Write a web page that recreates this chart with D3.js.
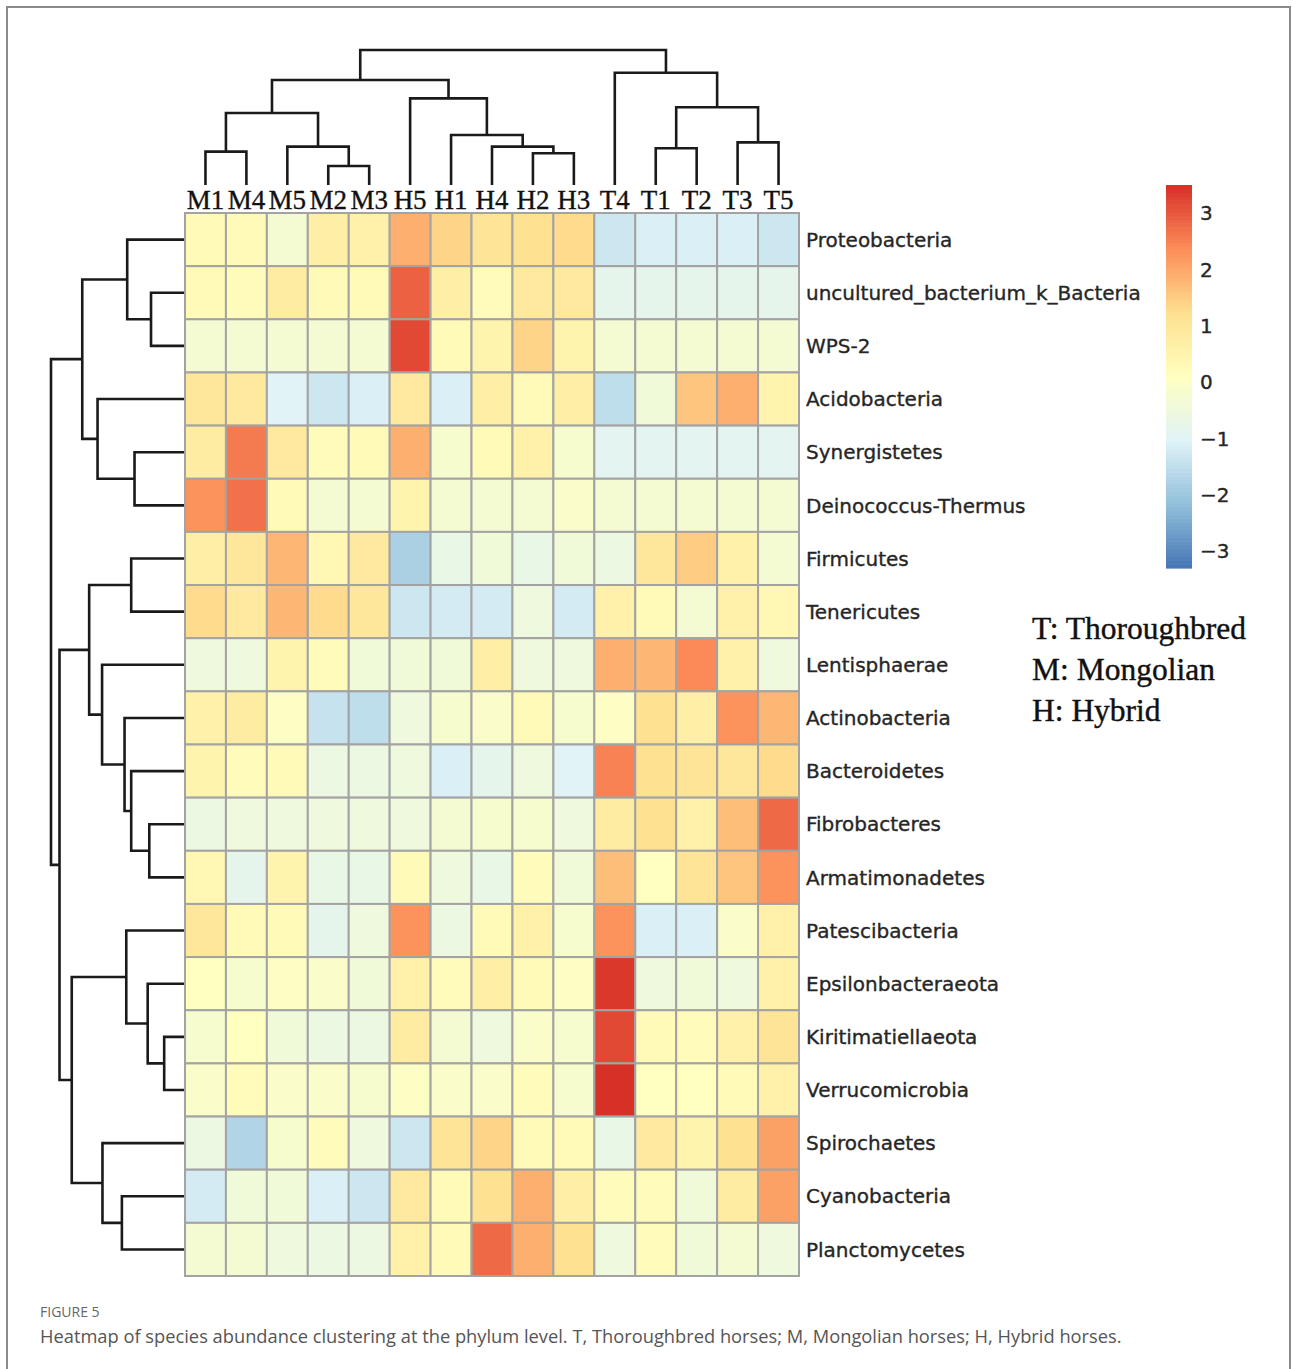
<!DOCTYPE html>
<html>
<head>
<meta charset="utf-8">
<script src="https://cdn.jsdelivr.net/npm/d3@7"></script>
<style>
  html, body { margin: 0; padding: 0; background: #fff; }
  svg { display: block; }
</style>
</head>
<body>
<svg id="chart" width="1293" height="1369"></svg>
<script>
// Samples (columns) in dendrogram order
const samples = ["M1","M4","M5","M2","M3","H5","H1","H4","H2","H3","T4","T1","T2","T3","T5"];

// Phyla (rows) in dendrogram order
const phyla = [
  "Proteobacteria","uncultured_bacterium_k_Bacteria","WPS-2","Acidobacteria",
  "Synergistetes","Deinococcus-Thermus","Firmicutes","Tenericutes","Lentisphaerae",
  "Actinobacteria","Bacteroidetes","Fibrobacteres","Armatimonadetes","Patescibacteria",
  "Epsilonbacteraeota","Kiritimatiellaeota","Verrucomicrobia","Spirochaetes",
  "Cyanobacteria","Planctomycetes"
];

// Row-scaled abundance (z-scores), one array per phylum, columns in `samples` order
const Proteobacteria      = [ 0.3, 0.3,-0.3, 0.7, 0.6, 1.9, 1.4, 1.1, 1.2, 1.3,-1.3,-1.1,-1.1,-1.1,-1.3];
const uncultured          = [ 0.3, 0.2, 0.8, 0.3, 0.3, 2.9, 0.7, 0.2, 0.9, 0.9,-0.8,-0.8,-0.8,-0.8,-0.8];
const WPS2                = [-0.3,-0.3,-0.3,-0.3,-0.3, 3.2, 0.3, 0.5, 1.4, 0.5,-0.3,-0.3,-0.3,-0.3,-0.3];
const Acidobacteria       = [ 1.0, 0.9,-1.0,-1.3,-1.1, 0.9,-1.1, 0.7, 0.3, 0.7,-1.5,-0.4, 1.6, 1.9, 0.5];
const Synergistetes       = [ 0.8, 2.6, 0.9, 0.2, 0.3, 1.9,-0.2, 0.3, 0.6,-0.2,-0.9,-0.9,-0.9,-0.9,-0.9];
const DeinococcusThermus  = [ 2.3, 2.7, 0.3,-0.3,-0.3, 0.5,-0.3,-0.3,-0.3,-0.1,-0.3,-0.3,-0.3,-0.3,-0.3];
const Firmicutes          = [ 0.7, 1.0, 1.8, 0.4, 0.9,-1.8,-0.7,-0.4,-0.7,-0.4,-0.6, 1.0, 1.5, 0.6,-0.3];
const Tenericutes         = [ 1.3, 0.9, 1.8, 1.3, 1.0,-1.3,-1.2,-1.2,-0.5,-1.2, 0.6, 0.3,-0.3, 0.6, 0.4];
const Lentisphaerae       = [-0.5,-0.5, 0.5, 0.2,-0.4,-0.4,-0.4, 0.7,-0.5,-0.5, 1.9, 1.8, 2.4, 0.6,-0.5];
const Actinobacteria      = [ 0.6, 0.8, 0.0,-1.4,-1.5,-0.5,-0.2,-0.1, 0.3,-0.2, 0.0, 1.2, 0.7, 2.3, 1.8];
const Bacteroidetes       = [ 0.5, 0.2, 0.3,-0.6,-0.6,-0.5,-1.1,-0.8,-0.5,-1.0, 2.5, 1.2, 1.1, 1.0, 1.3];
const Fibrobacteres       = [-0.6,-0.5,-0.5,-0.5,-0.5,-0.5,-0.3,-0.2,-0.2,-0.5, 0.8, 1.2, 0.6, 1.7, 2.8];
const Armatimonadetes     = [ 0.4,-0.8, 0.5,-0.7,-0.7, 0.3,-0.5,-0.7, 0.2,-0.4, 1.7, 0.1, 1.1, 1.6, 2.3];
const Patescibacteria     = [ 1.0, 0.3, 0.3,-0.8,-0.5, 2.3,-0.6, 0.3, 0.6,-0.2, 2.3,-1.1,-1.1,-0.1, 0.6];
const Epsilonbacteraeota  = [ 0.1,-0.2, 0.0,-0.1,-0.4, 0.6, 0.2, 0.7, 0.3, 0.0, 3.4,-0.5,-0.4,-0.5, 0.6];
const Kiritimatiellaeota  = [-0.2, 0.1,-0.4,-0.6,-0.6, 0.8,-0.3,-0.5,-0.1,-0.2, 3.2, 0.3, 0.2, 0.6, 1.1];
const Verrucomicrobia     = [-0.1, 0.2,-0.1,-0.1,-0.2, 0.0,-0.1,-0.1, 0.2,-0.2, 3.5, 0.1, 0.1, 0.3, 0.6];
const Spirochaetes        = [-0.6,-1.7,-0.2, 0.2,-0.5,-1.3, 1.1, 1.4, 0.3, 0.3,-0.7, 0.9, 0.5, 1.2, 2.1];
const Cyanobacteria       = [-1.2,-0.4,-0.4,-1.1,-1.3, 0.9, 0.3, 1.2, 1.9, 0.7, 0.2, 0.2,-0.4, 0.8, 2.1];
const Planctomycetes      = [-0.3,-0.3,-0.5,-0.6,-0.6, 0.6, 0.3, 2.8, 1.9, 1.2,-0.5, 0.2,-0.4,-0.3,-0.5];

const values = [
  Proteobacteria, uncultured, WPS2, Acidobacteria, Synergistetes, DeinococcusThermus,
  Firmicutes, Tenericutes, Lentisphaerae, Actinobacteria, Bacteroidetes, Fibrobacteres,
  Armatimonadetes, Patescibacteria, Epsilonbacteraeota, Kiritimatiellaeota,
  Verrucomicrobia, Spirochaetes, Cyanobacteria, Planctomycetes
];

// Column clustering: [left, right, height]; strings are leaves, numbers are earlier merges
const colMerges = [
  ["M2","M3",1.41],   // 0
  ["H2","H3",2.35],   // 1
  ["M1","M4",2.47],   // 2
  ["T1","T2",2.72],   // 3
  ["M5",0,2.84],      // 4
  ["H4",1,2.84],      // 5
  ["T3","T5",3.16],   // 6
  ["H1",5,3.70],      // 7
  [2,4,5.33],         // 8
  [3,6,5.76],         // 9
  ["H5",7,6.42],      // 10
  [8,10,7.78],        // 11
  ["T4",9,8.32],      // 12
  [11,12,10.0]        // 13
];

// Row clustering, same layout
const rowMerges = [
  ["Kiritimatiellaeota","Verrucomicrobia",1.49],          // 0
  ["uncultured_bacterium_k_Bacteria","WPS-2",2.48],       // 1
  ["Fibrobacteres","Armatimonadetes",2.61],               // 2
  ["Epsilonbacteraeota",0,2.73],                          // 3
  ["Synergistetes","Deinococcus-Thermus",3.72],           // 4
  ["Firmicutes","Tenericutes",3.97],                      // 5
  ["Bacteroidetes",2,3.97],                               // 6
  ["Proteobacteria",1,4.27],                              // 7
  ["Patescibacteria",3,4.34],                             // 8
  ["Actinobacteria",6,4.47],                              // 9
  ["Cyanobacteria","Planctomycetes",4.67],                // 10
  ["Spirochaetes",10,6.13],                               // 11
  ["Lentisphaerae",9,6.16],                               // 12
  ["Acidobacteria",4,6.50],                               // 13
  [5,12,7.13],                                            // 14
  [7,13,7.65],                                            // 15
  [8,11,8.44],                                            // 16
  [14,16,9.36],                                           // 17
  [15,17,10.0]                                            // 18
];

// Colour key
const legendTicks = [3,2,1,0,-1,-2,-3];
const valueRange = [-3.3, 3.5];
const palette = ["#4575b4","#91bfdb","#e0f3f8","#ffffbf","#fee090","#fc8d59","#d73027"];

const groupKey = ["T: Thoroughbred","M: Mongolian","H: Hybrid"];
const figureLabel = "FIGURE 5";
const captionText = "Heatmap of species abundance clustering at the phylum level. T, Thoroughbred horses; M, Mongolian horses; H, Hybrid horses.";

// ---------- layout ----------
const svg = d3.select("#chart");
const grid = {left: 185, right: 799, top: 213, bottom: 1276};

const x = d3.scaleBand().domain(samples).range([grid.left, grid.right]);
const y = d3.scaleBand().domain(phyla).range([grid.top, grid.bottom]);

const color = d3.scaleLinear()
  .domain(palette.map((_, i) => valueRange[0] + i * (valueRange[1] - valueRange[0]) / (palette.length - 1)))
  .range(palette)
  .interpolate(d3.interpolateRgb)
  .clamp(true);

// Outer frame
svg.append("path")
  .attr("d", "M7,1375V7H1290V1375")
  .attr("fill", "none")
  .attr("stroke", "#8a8a8a")
  .attr("stroke-width", 2);

// ---------- heatmap cells ----------
const cells = [];
phyla.forEach((p, i) => samples.forEach((s, j) => cells.push({p, s, v: values[i][j]})));

svg.append("g").selectAll("rect")
  .data(cells)
  .join("rect")
  .attr("x", d => x(d.s))
  .attr("y", d => y(d.p))
  .attr("width", x.bandwidth())
  .attr("height", y.bandwidth())
  .attr("fill", d => color(d.v))
  .attr("stroke", "#a3a3a3")
  .attr("stroke-width", 2);

// ---------- dendrograms ----------
function buildTree(merges) {
  const toNode = ref => typeof ref === "string"
    ? {name: ref, height: 0}
    : {height: merges[ref][2], kids: [toNode(merges[ref][0]), toNode(merges[ref][1])]};
  return d3.hierarchy(toNode(merges.length - 1), d => d.kids);
}

function elbows(root, leafPos, heightPos, vertical) {
  // leaf positions from band scale, internal nodes at the mean of their children
  root.eachAfter(n => {
    n.pos = n.children ? d3.mean(n.children, c => c.pos) : leafPos(n.data.name);
    n.hp = heightPos(n.data.height);
  });
  const paths = [];
  root.each(n => {
    if (!n.children) return;
    const [a, b] = n.children;
    paths.push(vertical
      ? `M${a.pos},${a.hp}V${n.hp}H${b.pos}V${b.hp}`
      : `M${a.hp},${a.pos}H${n.hp}V${b.pos}H${b.hp}`);
  });
  return paths;
}

const colTree = buildTree(colMerges);
const colH = d3.scaleLinear().domain([0, 10]).range([185, 50]);
svg.append("g").selectAll("path")
  .data(elbows(colTree, s => x(s) + x.bandwidth() / 2, colH, true))
  .join("path")
  .attr("d", d => d)
  .attr("fill", "none")
  .attr("stroke", "#1a1a1a")
  .attr("stroke-width", 2.6);

const rowTree = buildTree(rowMerges);
const rowH = d3.scaleLinear().domain([0, 10]).range([184, 51]);
svg.append("g").selectAll("path")
  .data(elbows(rowTree, p => y(p) + y.bandwidth() / 2, rowH, false))
  .join("path")
  .attr("d", d => d)
  .attr("fill", "none")
  .attr("stroke", "#1a1a1a")
  .attr("stroke-width", 2.6);

// ---------- labels ----------
svg.append("g").selectAll("text")
  .data(samples)
  .join("text")
  .attr("x", d => x(d) + x.bandwidth() / 2)
  .attr("y", 209)
  .attr("text-anchor", "middle")
  .attr("font-family", "'Liberation Serif', 'Times New Roman', serif")
  .attr("font-size", 27)
  .attr("fill", "#111")
  .attr("stroke", "#111")
  .attr("stroke-width", 0.35)
  .text(d => d);

svg.append("g").selectAll("text")
  .data(phyla)
  .join("text")
  .attr("x", grid.right + 7)
  .attr("y", d => y(d) + y.bandwidth() / 2)
  .attr("dy", "0.36em")
  .attr("font-family", "'DejaVu Sans', Verdana, sans-serif")
  .attr("font-size", 20)
  .attr("fill", "#262626")
  .attr("stroke", "#262626")
  .attr("stroke-width", 0.35)
  .text(d => d);

// ---------- colour key ----------
const key = {x: 1166, w: 26, top: 185, bottom: 568};
const keyY = d3.scaleLinear().domain(valueRange).range([key.bottom, key.top]);
const steps = d3.range(100).map(i => valueRange[0] + (i + 0.5) * (valueRange[1] - valueRange[0]) / 100);
const stepH = (key.bottom - key.top) / 100;
svg.append("g").selectAll("rect")
  .data(steps)
  .join("rect")
  .attr("x", key.x)
  .attr("y", d => keyY(d) - stepH / 2)
  .attr("width", key.w)
  .attr("height", stepH + 0.6)
  .attr("fill", d => color(d));

svg.append("g").selectAll("text")
  .data(legendTicks)
  .join("text")
  .attr("x", key.x + key.w + 8)
  .attr("y", d => keyY(d))
  .attr("dy", "0.36em")
  .attr("font-family", "'DejaVu Sans', Verdana, sans-serif")
  .attr("font-size", 20)
  .attr("fill", "#262626")
  .attr("stroke", "#262626")
  .attr("stroke-width", 0.35)
  .text(d => d < 0 ? "\u2212" + Math.abs(d) : String(d));

// Group abbreviations
svg.append("g").selectAll("text")
  .data(groupKey)
  .join("text")
  .attr("x", 1032)
  .attr("y", (d, i) => 639 + i * 41)
  .attr("font-family", "'Liberation Serif', 'Times New Roman', serif")
  .attr("font-size", 31.5)
  .attr("fill", "#111")
  .attr("stroke", "#111")
  .attr("stroke-width", 0.4)
  .text(d => d);

// ---------- caption ----------
svg.append("text")
  .attr("x", 40)
  .attr("y", 1317)
  .attr("font-family", "'Open Sans', 'Noto Sans', sans-serif")
  .attr("font-size", 14)
  .attr("fill", "#666")
  .text(figureLabel);

svg.append("text")
  .attr("x", 40)
  .attr("y", 1343)
  .attr("font-family", "'Open Sans', 'Noto Sans', sans-serif")
  .attr("font-size", 18.3)
  .attr("fill", "#555")
  .text(captionText);
</script>
</body>
</html>
